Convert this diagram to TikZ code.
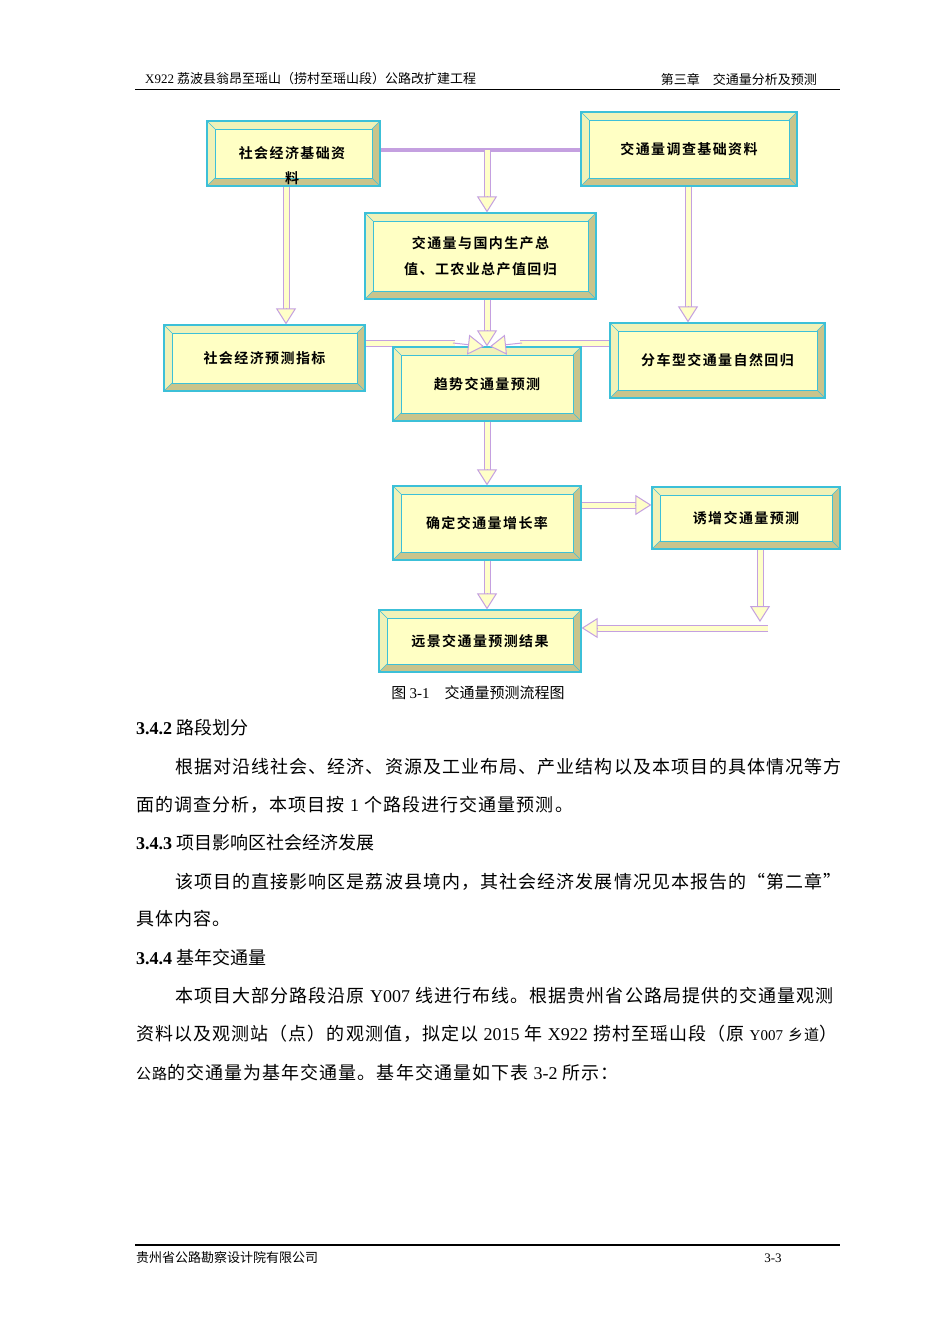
\documentclass[tikz,border=0pt]{standalone}
\usepackage{fontspec}
\setmainfont{Liberation Serif}
\newfontfamily\cjk{Noto Sans CJK SC}
\newfontfamily\cjkb[LetterSpace=6]{Noto Sans CJK SC}
\newfontfamily\cjkbox[LetterSpace=10]{Noto Sans CJK SC Bold}
\usetikzlibrary{arrows.meta,calc}
\definecolor{boxy}{HTML}{FFFFC4}
\definecolor{bevl}{HTML}{F0F2B8}
\definecolor{bevd}{HTML}{C9C48C}
\definecolor{cyanb}{HTML}{3CC0D8}
\definecolor{lav}{HTML}{C4A0E0}
\definecolor{afill}{HTML}{FFFFC8}
\tikzset{
 bev/.style={draw=cyanb, line width=1.2pt, fill=boxy, inner sep=0pt, align=center,
  font=\cjkbox\fontsize{14}{26}\selectfont,
  path picture={
   \coordinate (NW) at (path picture bounding box.north west);
   \coordinate (SE) at (path picture bounding box.south east);
   \coordinate (NE) at (path picture bounding box.north east);
   \coordinate (SW) at (path picture bounding box.south west);
   \fill[bevl] (NW) -- (NE) -- ($(NE)+(-8pt,-8pt)$) -- ($(NW)+(8pt,-8pt)$) -- cycle;
   \fill[bevl] (NW) -- (SW) -- ($(SW)+(8pt,8pt)$) -- ($(NW)+(8pt,-8pt)$) -- cycle;
   \fill[bevd] (SE) -- (NE) -- ($(NE)+(-8pt,-8pt)$) -- ($(SE)+(-8pt,8pt)$) -- cycle;
   \fill[bevd] (SE) -- (SW) -- ($(SW)+(8pt,8pt)$) -- ($(SE)+(-8pt,8pt)$) -- cycle;
   \draw[cyanb, line width=1pt] ($(NW)+(8pt,-8pt)$) rectangle ($(SE)+(-8pt,8pt)$);
   \draw[cyanb, line width=0.6pt] (NW) -- ($(NW)+(8pt,-8pt)$) (NE) -- ($(NE)+(-8pt,-8pt)$)
     (SW) -- ($(SW)+(8pt,8pt)$) (SE) -- ($(SE)+(-8pt,8pt)$);
  }},
 shaft/.style={draw=afill, line width=5pt, preaction={draw=lav, line width=7pt}},
 head/.style={draw=lav, line width=1pt, -{Triangle[width=20pt,length=16pt,fill=afill]}},
 band/.style={draw=lav, line width=3.5pt},
 boxtext/.style={inner sep=0pt, align=center, font=\cjkbox\fontsize{14}{25}\selectfont},
 body/.style={anchor=west, inner sep=0pt, font=\cjkb\fontsize{18}{18}\selectfont},
 sec/.style={anchor=west, inner sep=0pt, font=\fontsize{18}{18}\selectfont},
 small/.style={inner sep=0pt, font=\cjk\fontsize{13}{13}\selectfont}
}
\newcommand{\barr}[2]{\draw[shaft] (#1) -- ($(#2)!15pt!(#1)$); \draw[head] ($(#2)!16pt!(#1)$) -- (#2);}
\begin{document}
\begin{tikzpicture}[x=1pt,y=-1pt]
\useasboundingbox[fill=white] (0,0) rectangle (950,1344);
% header
\node[small, anchor=west] (h1) at (145,79) {{\fontspec{Liberation Serif}X922} 荔波县翁昂至瑶山（捞村至瑶山段）公路改扩建工程};
\node[small, anchor=east] (h2) at (817,79) {第三章\quad 交通量分析及预测};
\draw[line width=0.8pt] (135,89) -- (840,89);
% connectors behind
\coordinate (l1) at (380,150);
\draw[band] (l1) -- (581,150);
% boxes
\node[bev, minimum width=173pt, minimum height=65pt] (b1) at (293.5,153.5) {};
\node[boxtext] (b1t) at (292,166) {社会经济基础资\\料};
\node[bev, minimum width=216pt, minimum height=74pt] (b2) at (689,149) {交通量调查基础资料};
\node[bev, minimum width=231pt, minimum height=86pt] (b3) at (480.5,256) {交通量与国内生产总\\值、工农业总产值回归};
\node[bev, minimum width=201pt, minimum height=66pt] (b4) at (264.5,358) {社会经济预测指标};
\node[bev, minimum width=215pt, minimum height=75pt] (b6) at (717.5,360.5) {分车型交通量自然回归};
\node[bev, minimum width=188pt, minimum height=74pt] (b7) at (487,523) {确定交通量增长率};
\node[bev, minimum width=188pt, minimum height=62pt] (b8) at (746,518) {诱增交通量预测};
\node[bev, minimum width=202pt, minimum height=62pt] (b9) at (480,641) {远景交通量预测结果};
% converging arrows
\coordinate (p4) at ([yshift=15pt]b4.east);
\coordinate (p4e) at (455,343);
\draw[shaft] (p4) -- (p4e);
\coordinate (p6) at ([yshift=17.5pt]b6.west);
\coordinate (p6e) at (520,343);
\draw[shaft] (p6) -- (p6e);
\node[bev, minimum width=188pt, minimum height=74pt] (b5) at (487,384) {趋势交通量预测};
\draw[head] ($(p4e)+(-2pt,0)$) -- ([xshift=-3pt]b5.north);
\draw[head] ($(p6e)+(2pt,0)$) -- ([xshift=3pt]b5.north);
\coordinate (j1) at (487,150);
\barr{j1}{j1 |- b3.north}
\coordinate (p1) at ([xshift=-7.5pt]b1.south);
\barr{p1}{p1 |- b4.north}
\coordinate (p2) at ([xshift=-1pt]b2.south);
\barr{p2}{p2 |- b6.north}
\coordinate (p3) at ([xshift=6.5pt]b3.south);
\barr{p3}{p3 |- b5.north}
\barr{b5.south}{b7.north}
\coordinate (p7) at ([yshift=18pt]b7.east);
\barr{p7}{p7 -| b8.west}
\barr{b7.south}{b7.south |- b9.north}
\coordinate (p8) at ([xshift=14pt]b8.south);
\coordinate (p8e) at (760,622);
\barr{p8}{p8e}
\coordinate (p9) at (768,628);
\barr{p9}{p9 -| b9.east}
% caption
\node[small, font=\cjk\fontsize{15}{15}\selectfont] (cap) at (478,693) {图 {\fontspec{Liberation Serif}3-1}\quad 交通量预测流程图};
% text
\node[sec] (s1) at (136,728) {\textbf{3.4.2} {\cjk 路段划分}};
\node[body] (t1) at (175,767) {根据对沿线社会、经济、资源及工业布局、产业结构以及本项目的具体情况等方};
\node[body] (t2) at (136,805) {面的调查分析，本项目按 {\fontspec{Liberation Serif}1} 个路段进行交通量预测。};
\node[sec] (s2) at (136,843) {\textbf{3.4.3} {\cjk 项目影响区社会经济发展}};
\node[body] (t3) at (175,882) {该项目的直接影响区是荔波县境内，其社会经济发展情况见本报告的“第二章”};
\node[body] (t4) at (136,919) {具体内容。};
\node[sec] (s3) at (136,958) {\textbf{3.4.4} {\cjk 基年交通量}};
\node[body] (t5) at (175,996) {本项目大部分路段沿原 {\fontspec{Liberation Serif}Y007} 线进行布线。根据贵州省公路局提供的交通量观测};
\node[body] (t6) at (136,1034) {资料以及观测站（点）的观测值，拟定以 {\fontspec{Liberation Serif}2015} 年 {\fontspec{Liberation Serif}X922} 捞村至瑶山段（原 {\fontspec{Liberation Serif}\fontsize{15}{15}\selectfont Y007} {\fontsize{15}{15}\selectfont 乡道}）};
\node[body] (t7) at (136,1073) {{\fontsize{15}{15}\selectfont 公路}的交通量为基年交通量。基年交通量如下表 {\fontspec{Liberation Serif}3-2} 所示：};
% footer
\draw[line width=2pt] (135,1245) -- (840,1245);
\node[small, anchor=west] (f1) at (136,1258) {贵州省公路勘察设计院有限公司};
\node[small, font=\fontsize{13}{13}\selectfont] (f2) at (773,1258) {3-3};
\end{tikzpicture}
\end{document}
